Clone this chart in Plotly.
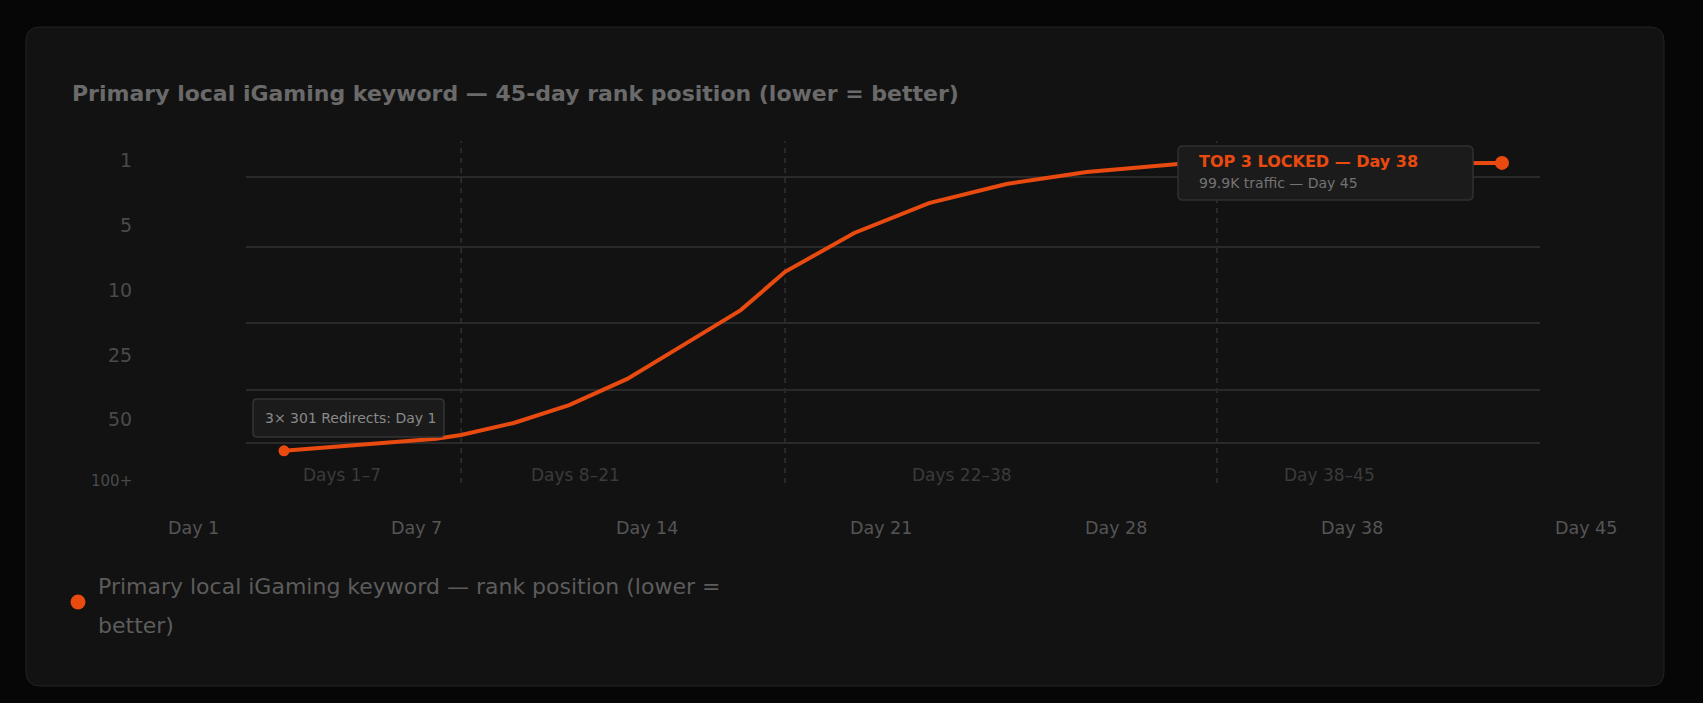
import plotly.graph_objects as go

W, H = 1703, 703

# ---------------- data ----------------
days = [1, 6.5, 7.4, 9.3, 11.3, 13.4, 15.3, 17.5, 19.1, 21.6, 24.3, 27.1, 30.0, 33.3, 45]
rank = [90.7, 87.0, 85.8, 82.1, 76.6, 68.5, 58.7, 47.3, 35.5, 23.5, 14.3, 8.4, 4.7, 2.2, 1.9]
y_tick_labels = ["1", "5", "10", "25", "50", "100+"]
x_tick_labels = ["Day 1", "Day 7", "Day 14", "Day 21", "Day 28", "Day 38", "Day 45"]
phase_labels = ["Days 1–7", "Days 8–21", "Days 22–38", "Day 38–45"]
phase_boundaries = [7.4, 19.1, 34.7]
grid_ranks = [6.15, 27.8, 51.3, 71.8, 88.3]
series_name_lines = ["Primary local iGaming keyword — rank position (lower =", "better)"]
chart_title = "Primary local iGaming keyword — 45-day rank position (lower = better)"
note_start = "3× 301 Redirects: Day 1"
note_end_title = "TOP 3 LOCKED — Day 38"
note_end_sub = "99.9K traffic — Day 45"

# ---------------- styling / layout helpers ----------------
FONT = "DejaVu Sans"
ORANGE = "#e84a0f"


def fx(px):
    return px / W


def fy(py):
    return 1 - py / H


def rrect(x0, y0, x1, y1, r):
    return (
        f"M {fx(x0 + r)},{fy(y0)} L {fx(x1 - r)},{fy(y0)} "
        f"Q {fx(x1)},{fy(y0)} {fx(x1)},{fy(y0 + r)} "
        f"L {fx(x1)},{fy(y1 - r)} Q {fx(x1)},{fy(y1)} {fx(x1 - r)},{fy(y1)} "
        f"L {fx(x0 + r)},{fy(y1)} Q {fx(x0)},{fy(y1)} {fx(x0)},{fy(y1 - r)} "
        f"L {fx(x0)},{fy(y0 + r)} Q {fx(x0)},{fy(y0)} {fx(x0 + r)},{fy(y0)} Z"
    )


# axis geometry (pixels)
PLOT_L, PLOT_R = 246, 1540
PLOT_T, PLOT_B = 130, 500
DAY_PX0, DAY_PX1 = 284, 1502          # day 1 .. day 45
px_per_day = (DAY_PX1 - DAY_PX0) / 44
RANK_PX1, RANK_PX100 = 160, 481       # rank 1 .. rank 100
px_per_rank = (RANK_PX100 - RANK_PX1) / 99

x_range = [1 + (PLOT_L - DAY_PX0) / px_per_day, 1 + (PLOT_R - DAY_PX0) / px_per_day]
y_range = [1 + (PLOT_B - RANK_PX1) / px_per_rank, 1 + (PLOT_T - RANK_PX1) / px_per_rank]

legend_text = "<br>".join(
    f"<span style='font-size:22px'>{ln}</span>" for ln in series_name_lines
)

# marker only on the first and last point
marker_sizes = [11] + [0] * (len(days) - 2) + [14]

fig = go.Figure()

fig.add_trace(go.Scatter(
    x=days, y=rank, mode="lines+markers",
    line=dict(color=ORANGE, width=4),
    marker=dict(color=ORANGE, size=marker_sizes, opacity=1, line=dict(width=0)),
    showlegend=False, hoverinfo="skip",
))
fig.add_trace(go.Scatter(
    x=[None], y=[None], mode="markers",
    marker=dict(color=ORANGE, size=15, line=dict(width=0)),
    name=legend_text, showlegend=True,
))

shapes = [
    dict(type="path", path=rrect(26, 27, 1664, 686, 14), xref="paper", yref="paper",
         fillcolor="#121212", line=dict(color="#222222", width=1), layer="below"),
]
for b in phase_boundaries:
    shapes.append(dict(type="line", xref="x", yref="paper", x0=b, x1=b,
                       y0=fy(483), y1=fy(141),
                       line=dict(color="#363636", width=1.3, dash="5px,5px"), layer="below"))
shapes.append(dict(type="path", path=rrect(253, 399, 444, 437, 4), xref="paper", yref="paper",
                   fillcolor="#1b1b1b", line=dict(color="#343434", width=1.5), layer="above"))
shapes.append(dict(type="path", path=rrect(1178, 146, 1473, 200, 5), xref="paper", yref="paper",
                   fillcolor="#1b1b1b", line=dict(color="#303030", width=1.5), layer="above"))

annotations = [
    dict(text=chart_title, x=fx(70), y=fy(93), xref="paper", yref="paper",
         xanchor="left", yanchor="middle", showarrow=False,
         font=dict(family=FONT, size=22, color="#6a6a6a", weight=700)),
]
y_label_centers = [160, 225, 290, 355, 419, 481]
for lab, cy in zip(y_tick_labels, y_label_centers):
    annotations.append(dict(text=lab, x=fx(134), y=fy(cy), xref="paper", yref="paper",
                            xanchor="right", yanchor="middle", showarrow=False,
                            font=dict(family=FONT, size=15 if lab.endswith("+") else 19,
                                      color="#4a4a4a")))
x_label_centers = [193.3, 416.5, 646.7, 881.3, 1115.9, 1351.5, 1586.1]
for lab, cx in zip(x_tick_labels, x_label_centers):
    annotations.append(dict(text=lab, x=fx(cx), y=fy(528), xref="paper", yref="paper",
                            xanchor="center", yanchor="middle", showarrow=False,
                            font=dict(family=FONT, size=17.5, color="#555555")))
phase_centers = [341.6, 575.6, 962, 1329]
for lab, cx in zip(phase_labels, phase_centers):
    annotations.append(dict(text=lab, x=fx(cx), y=fy(475), xref="paper", yref="paper",
                            xanchor="center", yanchor="middle", showarrow=False,
                            font=dict(family=FONT, size=17, color="#3b3b3b")))
annotations += [
    dict(text=note_start, x=fx(263), y=fy(418), xref="paper", yref="paper",
         xanchor="left", yanchor="middle", showarrow=False,
         font=dict(family=FONT, size=14, color="#8a8a8a")),
    dict(text=note_end_title, x=fx(1197), y=fy(162), xref="paper", yref="paper",
         xanchor="left", yanchor="middle", showarrow=False,
         font=dict(family=FONT, size=16, color=ORANGE, weight=700)),
    dict(text=note_end_sub, x=fx(1197), y=fy(183), xref="paper", yref="paper",
         xanchor="left", yanchor="middle", showarrow=False,
         font=dict(family=FONT, size=14, color="#747474")),
]

fig.update_layout(
    width=W, height=H, autosize=False,
    margin=dict(l=0, r=0, t=0, b=0, pad=0),
    paper_bgcolor="#060606", plot_bgcolor="rgba(0,0,0,0)",
    font=dict(family=FONT, color="#5c5c5c"),
    shapes=shapes, annotations=annotations,
    xaxis=dict(domain=[fx(PLOT_L), fx(PLOT_R)], range=x_range, showgrid=False,
               zeroline=False, showline=False, showticklabels=False, ticks=""),
    yaxis=dict(domain=[fy(PLOT_B), fy(PLOT_T)], range=y_range, showgrid=True,
               gridcolor="#2a2a2a", gridwidth=1.5, tickvals=grid_ranks,
               zeroline=False, showline=False, showticklabels=False, ticks=""),
    legend=dict(x=fx(58), y=fy(602), xanchor="left", yanchor="middle",
                font=dict(family=FONT, size=30, color="#5c5c5c"),
                bgcolor="rgba(0,0,0,0)", borderwidth=0, valign="middle"),
    hovermode=False,
)

fig.write_html("out.html")
